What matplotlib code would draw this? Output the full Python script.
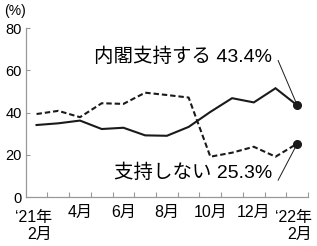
import matplotlib
matplotlib.use("Agg")
import matplotlib.pyplot as plt
import matplotlib.transforms as mtransforms

plt.rcParams['font.family'] = ['Liberation Sans', 'Noto Sans CJK JP', 'DejaVu Sans']

# Data: Feb 2021 .. Feb 2022 (13 monthly points)
months = list(range(13))
support = [34.1, 34.9, 36.2, 32.2, 32.8, 29.2, 29.0, 33.2, 40.3, 46.8, 44.8, 51.5, 43.4]
nonsupport = [39.3, 40.8, 37.8, 44.4, 44.1, 49.4, 48.3, 47.1, 19.1, 21.0, 23.8, 19.1, 25.3]
yticks = [0, 20, 40, 60, 80]
xlabel_pos = [2, 4, 6, 8, 10]
xlabel_txt = ['4月', '6月', '8月', '10月', '12月']
first_label = "\u201821年\n2月"
last_label = "\u201822年\n2月"
support_label = '内閣支持する 43.4%'
nonsupport_label = '支持しない 25.3%'

fig = plt.figure(figsize=(3.17, 2.46), dpi=100)
ax = fig.add_axes([0.081, 0.199, 0.891, 0.687])

ax.plot(months, support, color='#1a1a1a', lw=1.5, solid_joinstyle='miter')
ax.plot(months, nonsupport, color='#1a1a1a', lw=1.5, linestyle=(0, (2.6, 1.4)))
ax.plot([months[-1]], [support[-1]], 'o', color='#1a1a1a', ms=5.5)
ax.plot([months[-1]], [nonsupport[-1]], 'o', color='#1a1a1a', ms=5.5)

ax.set_xlim(-0.5, 12.5)
ax.set_ylim(0, 80)
for s in ['top', 'right']:
    ax.spines[s].set_visible(False)
for s in ['left', 'bottom']:
    ax.spines[s].set_color('#999999')
    ax.spines[s].set_linewidth(0.9)

ax.set_yticks(yticks)
ax.set_yticklabels([str(v) for v in yticks], fontsize=10.5)
ax.tick_params(axis='y', direction='in', length=3, color='#999999', pad=3)

ax.set_xticks([k + 0.5 for k in range(13)])
ax.set_xticklabels([])
ax.tick_params(axis='x', which='major', direction='in', length=3.5, color='#999999')
ax.set_xticks(xlabel_pos, minor=True)
ax.set_xticklabels(xlabel_txt, minor=True, fontsize=11.5)
ax.tick_params(axis='x', which='minor', length=0, pad=6)

trans = mtransforms.blended_transform_factory(ax.transData, ax.transAxes)
ax.text(0.7, -0.075, first_label, transform=trans, ha='right', va='top',
        multialignment='right', fontsize=11.5, linespacing=1.2)
ax.text(12.7, -0.075, last_label, transform=trans, ha='right', va='top',
        multialignment='right', fontsize=11.5, linespacing=1.2, clip_on=False)

fig.text(4 / 317, 1 - 11.5 / 246, '(%)', fontsize=10, va='center', ha='left')

ax.text(10.84, 66.3, support_label, ha='right', va='center', fontsize=14)
ax.text(10.84, 11.4, nonsupport_label, ha='right', va='center', fontsize=14)
ax.plot([11.12, 12], [64.6, 43.4], color='#1a1a1a', lw=0.7)
ax.plot([11.12, 12], [8.0, 25.3], color='#1a1a1a', lw=0.7)

fig.savefig('out.png', dpi=100)
